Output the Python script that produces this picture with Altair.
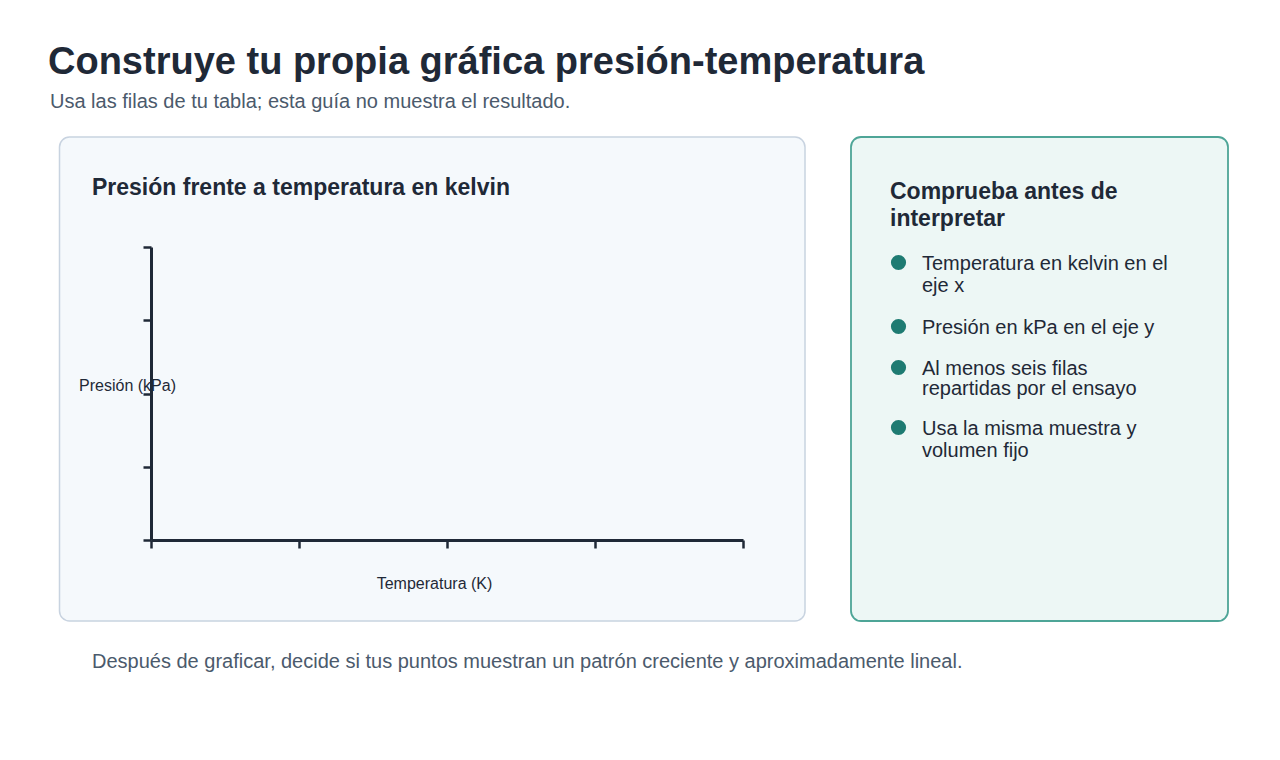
import altair as alt
import pandas as pd

# Textos de la guía
titulo = "Construye tu propia gráfica presión-temperatura"
subtitulo = "Usa las filas de tu tabla; esta guía no muestra el resultado."
titulo_panel = "Presión frente a temperatura en kelvin"
titulo_x = "Temperatura (K)"
titulo_y = "Presión (kPa)"
nota = "Después de graficar, decide si tus puntos muestran un patrón creciente y aproximadamente lineal."

# Ejes vacíos: solo marcas de graduación, sin etiquetas ni puntos
ticks_temperatura = [0, 1, 2, 3, 4]
ticks_presion = [0, 1, 2, 3, 4]
temperatura = []
presion = []

# Lista de comprobación
titulo_lista = ["Comprueba antes de", "interpretar"]
lista = [
    ["Temperatura en kelvin en el", "eje x"],
    ["Presión en kPa en el eje y"],
    ["Al menos seis filas", "repartidas por el ensayo"],
    ["Usa la misma muestra y", "volumen fijo"],
]

FUENTE = "Liberation Sans"
OSCURO = "#1f2937"
GRIS = "#4b5a6c"

uno = pd.DataFrame({"k": [0]})


def panel(x0, x1, y0, y1, relleno, borde, grosor):
    return alt.Chart(uno).mark_rect(
        cornerRadius=10, fill=relleno, stroke=borde, strokeWidth=grosor
    ).encode(x=alt.value(x0), x2=alt.value(x1), y=alt.value(y0), y2=alt.value(y1))


def texto(t, x, y, tam, color, peso="normal", interlineado=None):
    extra = {} if interlineado is None else {"lineHeight": interlineado}
    return alt.Chart(uno).mark_text(
        text=t, align="left", baseline="alphabetic", font=FUENTE,
        fontSize=tam, fontWeight=peso, color=color, **extra
    ).encode(x=alt.value(x), y=alt.value(y))


capas = [
    texto(titulo, 40, 66, 38, OSCURO, "bold"),
    texto(subtitulo, 42, 100, 20, GRIS),
    panel(51.5, 797, 129, 613, "#f5f9fc", "#c8d3e0", 1.5),
    panel(843, 1220, 129, 613, "#edf7f5", "#4ea597", 1.8),
    texto(titulo_panel, 84, 187, 23, OSCURO, "bold"),
]

# Gráfica vacía con escalas propias (ejes por encima de los paneles)
vacio = pd.DataFrame({"temperatura": pd.Series(temperatura, dtype=float),
                      "presion": pd.Series(presion, dtype=float)})
grafica = alt.Chart(vacio).mark_point().encode(
    x=alt.X("temperatura:Q",
            scale=alt.Scale(domain=[0, 4], range=[143, 735], nice=False, zero=False),
            axis=alt.Axis(values=ticks_temperatura, labels=False, grid=False, offset=-212,
                          zindex=2, domainColor=OSCURO, domainWidth=3, tickColor=OSCURO,
                          tickWidth=2.5, tickSize=8, title=titulo_x, titleX=426, titleY=43,
                          titleAlign="center", titleBaseline="middle", titleFont=FUENTE,
                          titleFontSize=16, titleFontWeight="normal", titleColor=OSCURO)),
    y=alt.Y("presion:Q",
            scale=alt.Scale(domain=[0, 4], range=[532, 239], nice=False, zero=False),
            axis=alt.Axis(values=ticks_presion, labels=False, grid=False, offset=-143,
                          zindex=2, domainColor=OSCURO, domainWidth=3, tickColor=OSCURO,
                          tickWidth=2.5, tickSize=8, title=titulo_y, titleAngle=0,
                          titleX=-24, titleY=377, titleAlign="center",
                          titleBaseline="middle", titleFont=FUENTE, titleFontSize=16,
                          titleFontWeight="normal", titleColor=OSCURO)),
)
capas.append(grafica)

# Panel derecho
capas.append(texto(titulo_lista, 882, 191, 23, OSCURO, "bold", 27))
posiciones = [254.5, 318.5, 359.5, 419.5]
interlineas = [22.5, 22.5, 20, 22.5]
for lineas, yb, lh in zip(lista, posiciones, interlineas):
    capas.append(alt.Chart(uno).mark_circle(size=230, color="#1e7b72", opacity=1)
                 .encode(x=alt.value(890.5), y=alt.value(yb)))
    capas.append(texto(lineas, 914, yb + 7, 20, OSCURO, "normal", lh))

capas.append(texto(nota, 84, 660, 20, GRIS))

chart = alt.layer(*capas).properties(
    width=1264, height=744, padding=0,
    autosize=alt.AutoSizeParams(type="none"),
    background="white",
).configure_view(strokeWidth=0)

chart.save("out.html", embed_options={"renderer": "svg", "actions": False})
